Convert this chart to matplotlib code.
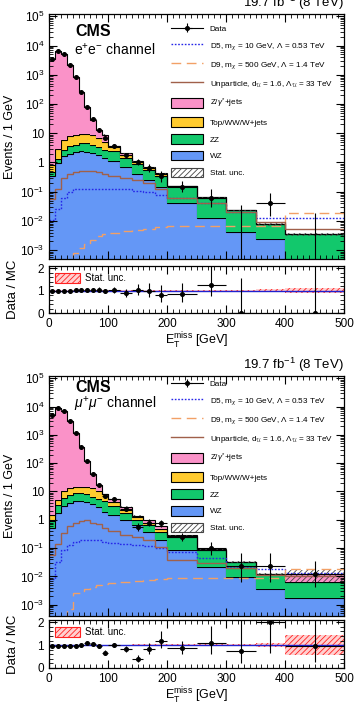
import numpy as np
import matplotlib.pyplot as plt
from matplotlib.patches import Patch
from matplotlib.lines import Line2D
from matplotlib.ticker import MultipleLocator, FixedLocator, LogLocator, NullFormatter

plt.rcParams['font.family'] = ['Liberation Sans', 'DejaVu Sans']
plt.rcParams['mathtext.fontset'] = 'custom'
plt.rcParams['mathtext.rm'] = 'Liberation Sans'
plt.rcParams['mathtext.it'] = 'Liberation Sans:italic'
plt.rcParams['mathtext.bf'] = 'Liberation Sans:bold'
plt.rcParams['hatch.linewidth'] = 0.6

# bin edges (GeV)
edges = [0, 10, 20, 30, 40, 50, 60, 70, 80, 90, 100,
         120, 140, 160, 180, 200, 250, 300, 350, 400, 500]

# ---- ee channel, events per GeV
ee_data = [3500, 6600, 5100, 2200, 820, 265, 80, 30, 12.6, 7.0,
           3.8, 1.8, 1.07, 0.66, 0.34, 0.15, 0.063, 0.0, 0.04, 0.0]
ee_wz = [0.34, 0.98, 1.65, 2.0, 2.25, 2.4, 2.3, 2.1, 1.8, 1.45,
         1.1, 0.7, 0.42, 0.25, 0.15, 0.042, 0.013, 0.0042, 0.0025, 0.0]
ee_zz = [0.13, 0.37, 0.95, 1.6, 1.85, 2.3, 2.3, 2.0, 1.6, 1.25,
         1.3, 0.75, 0.45, 0.3, 0.2, 0.11, 0.05, 0.019, 0.0051, 0.0035]
ee_top = [0.33, 1.65, 3.4, 4.4, 4.9, 4.9, 5.0, 4.4, 3.6, 2.3,
          0.9, 0.4, 0.18, 0.1, 0.06, 0.004, 0.001, 0.0, 0.0, 0.0]
ee_dy = [3500, 6600, 5100, 2190, 810, 255, 70, 21, 5.6, 4.0,
         0.4, 0.2, 0.05, 0.03, 0.02, 0.002, 0.0, 0.0, 0.0, 0.0]
ee_d5 = [0.011, 0.025, 0.063, 0.1, 0.12, 0.12, 0.12, 0.12, 0.12, 0.12,
         0.12, 0.12, 0.11, 0.1, 0.08, 0.06, 0.04, 0.02, 0.0125, 0.0125]
ee_d9 = [0.0001, 0.0002, 0.0003, 0.0004, 0.0008, 0.0012, 0.0016, 0.0022, 0.003, 0.0035,
         0.004, 0.0045, 0.005, 0.0055, 0.006, 0.0068, 0.0068, 0.0068, 0.0068, 0.019]
ee_unpart = [0.055, 0.12, 0.3, 0.42, 0.48, 0.5, 0.52, 0.52, 0.48, 0.42,
             0.35, 0.3, 0.25, 0.2, 0.12, 0.063, 0.04, 0.021, 0.009, 0.0054]
ee_stat = [0.01, 0.01, 0.01, 0.01, 0.01, 0.01, 0.01, 0.01, 0.02, 0.02,
           0.02, 0.02, 0.03, 0.03, 0.03, 0.03, 0.04, 0.05, 0.08, 0.12]
ee_ratio = [1.0, 1.0, 1.0, 1.0, 1.02, 1.03, 1.04, 1.04, 1.05, 0.97,
            1.03, 0.88, 1.02, 0.99, 0.8, 0.83, 1.25, 0.0, np.nan, 0.0]

# ---- mumu channel, events per GeV
mm_data = [5000, 8800, 7200, 3000, 1150, 360, 115, 42, 17, 6.7,
           5.5, 2.4, 0.57, 0.8, 0.75, 0.24, 0.1, 0.023, 0.023, 0.0125]
mm_wz = [0.5, 1.7, 3.0, 3.9, 4.5, 4.5, 4.2, 3.6, 2.9, 1.95,
         1.5, 1.0, 0.64, 0.38, 0.19, 0.085, 0.021, 0.0095, 0.0036, 0.0017]
mm_zz = [0.4, 1.6, 2.9, 3.7, 4.0, 4.0, 3.8, 2.9, 2.6, 2.55,
         1.5, 0.8, 0.36, 0.26, 0.19, 0.165, 0.064, 0.0225, 0.0089, 0.0046]
mm_top = [0.6, 1.7, 4.1, 5.4, 6.0, 6.5, 7.0, 6.5, 4.5, 3.5,
          1.2, 0.5, 0.3, 0.15, 0.08, 0.01, 0.003, 0.0005, 0.0, 0.0]
mm_dy = [5000, 8800, 7200, 2990, 1135, 345, 100, 28, 7.0, 0.0,
         1.3, 0.6, 0.1, 0.2, 0.15, 0.02, 0.002, 0.0, 0.0, 0.0055]
mm_d5 = [0.008, 0.033, 0.085, 0.13, 0.17, 0.2, 0.2, 0.2, 0.19, 0.17,
         0.15, 0.14, 0.13, 0.12, 0.1, 0.074, 0.043, 0.021, 0.019, 0.013]
mm_d9 = [0.0001, 0.0002, 0.0003, 0.0007, 0.0025, 0.0027, 0.0035, 0.0042, 0.005, 0.0055,
         0.006, 0.0065, 0.007, 0.0075, 0.008, 0.0085, 0.0085, 0.0085, 0.0085, 0.019]
mm_unpart = [0.056, 0.14, 0.33, 0.6, 0.8, 0.9, 0.95, 0.8, 0.7, 0.5,
             0.4, 0.3, 0.25, 0.2, 0.11, 0.037, 0.03, 0.02, 0.011, 0.01]
mm_stat = [0.01, 0.01, 0.01, 0.01, 0.01, 0.01, 0.01, 0.01, 0.02, 0.02,
           0.02, 0.02, 0.03, 0.03, 0.03, 0.03, 0.04, 0.05, 0.08, 0.45]
mm_ratio = [0.97, 0.97, 0.97, 0.97, 0.98, 1.0, 1.08, 1.05, 0.97, 0.67,
            1.0, 0.83, 0.4, 0.82, 1.2, 0.87, 1.1, 0.75, 2.0, 0.97]

lumi_text = r'19.7 fb$^{-1}$ (8 TeV)'
ytick_vals = [1e-3, 1e-2, 1e-1, 1, 10, 1e2, 1e3, 1e4, 1e5]
ytick_labels = [r'$10^{-3}$', r'$10^{-2}$', r'$10^{-1}$', '1', '10',
                r'$10^{2}$', r'$10^{3}$', r'$10^{4}$', r'$10^{5}$']

c_dy = '#fa92c8'
c_top = '#ffcb2f'
c_zz = '#12c86c'
c_wz = '#6497f6'
c_d5 = '#2626e8'
c_d9 = '#f2a066'
c_unp = '#a0604a'


def poisson_err(n):
    n = np.asarray(n, dtype=float)
    m = np.maximum(n, 1e-9)
    lo = np.where(n > 0, n - n * (1 - 1 / (9 * m) - 1 / (3 * np.sqrt(m))) ** 3, 0.0)
    hi = (n + 1) * (1 - 1 / (9 * (n + 1)) + 1 / (3 * np.sqrt(n + 1))) ** 3 - n
    return lo, hi


def style_axes(ax):
    ax.tick_params(which='both', direction='in', top=True, right=True, labelsize=8.5)
    ax.tick_params(which='major', length=6, width=0.8)
    ax.tick_params(which='minor', length=3, width=0.6)
    for s in ax.spines.values():
        s.set_linewidth(0.9)


def draw_channel(fig, rect_main, rect_ratio, data, wz, zz, top, dy, d5, d9, unp,
                 stat, ratio, channel_label, ylim, cms_y, chan_y, leg_y):
    e = np.array(edges, dtype=float)
    centers = 0.5 * (e[1:] + e[:-1])
    half = 0.5 * (e[1:] - e[:-1])
    widths = e[1:] - e[:-1]

    ax = fig.add_axes(rect_main)
    rax = fig.add_axes(rect_ratio)

    floor = 1e-7
    layers = [(wz, c_wz), (zz, c_zz), (top, c_top), (dy, c_dy)]
    bottom = np.full(len(centers), floor)
    for vals, col in layers:
        upper = bottom + np.array(vals)
        ax.stairs(upper, e, baseline=bottom, fill=True, color=col, lw=0)
        ax.stairs(upper, e, baseline=None, color='k', lw=0.8)
        bottom = upper
    total = bottom

    st = np.array(stat)
    ax.stairs(total * (1 + st), e, baseline=total * (1 - st), fill=True,
              facecolor='none', edgecolor='#444444', hatch='//////', lw=0)

    ax.stairs(d5, e, baseline=None, color=c_d5, ls=(0, (1.2, 1.2)), lw=1.0)
    ax.stairs(d9, e, baseline=None, color=c_d9, ls=(0, (7, 4)), lw=1.0)
    ax.stairs(unp, e, baseline=None, color=c_unp, lw=1.0)

    d = np.array(data, dtype=float)
    counts = np.round(d * widths)
    lo, hi = poisson_err(counts)
    lo = lo / widths
    hi = hi / widths
    nz = d > 0
    data_handle = ax.errorbar(centers[nz], d[nz], xerr=half[nz], yerr=[lo[nz], hi[nz]],
                              fmt='o', color='k', ms=2.6, lw=0.8, capsize=0)
    zero = ~nz
    ax.vlines(centers[zero], ylim[0] * 0.5, hi[zero], color='k', lw=0.8)

    ax.set_yscale('log')
    ax.set_xlim(0, 500)
    ax.set_ylim(*ylim)
    ax.yaxis.set_major_locator(FixedLocator(ytick_vals))
    ax.set_yticklabels(ytick_labels)
    ax.yaxis.set_minor_locator(LogLocator(base=10, subs=np.arange(2, 10), numticks=20))
    ax.yaxis.set_minor_formatter(NullFormatter())
    ax.xaxis.set_major_locator(MultipleLocator(100))
    ax.xaxis.set_minor_locator(MultipleLocator(10))
    ax.set_xticklabels([])
    style_axes(ax)
    ax.set_ylabel('Events / 1 GeV', fontsize=9)
    ax.yaxis.set_label_coords(-0.112, 0.5)

    ax.text(0.09, cms_y, 'CMS', transform=ax.transAxes, fontsize=11.5,
            fontweight='bold', va='center')
    ax.text(0.085, chan_y, channel_label, transform=ax.transAxes, fontsize=10,
            va='center')
    ax.text(1.0, 1.01, lumi_text, transform=ax.transAxes, fontsize=9.5,
            ha='right', va='bottom')

    handles = [
        (Line2D([0], [0], color='k', lw=0.8), data_handle),
        Line2D([0], [0], color=c_d5, ls=(0, (1.2, 1.2)), lw=1.0),
        Line2D([0], [0], color=c_d9, ls=(0, (7, 4)), lw=1.0),
        Line2D([0], [0], color=c_unp, lw=1.0),
        Patch(facecolor=c_dy, edgecolor='k', lw=0.8),
        Patch(facecolor=c_top, edgecolor='k', lw=0.8),
        Patch(facecolor=c_zz, edgecolor='k', lw=0.8),
        Patch(facecolor=c_wz, edgecolor='k', lw=0.8),
        Patch(facecolor='white', edgecolor='#444444', hatch='//////', lw=0.8),
    ]
    labels = ['Data',
              r'D5, m$_{\chi}$ = 10 GeV, $\Lambda$ = 0.53 TeV',
              r'D9, m$_{\chi}$ = 500 GeV, $\Lambda$ = 1.4 TeV',
              r'Unparticle, d$_{\mathcal{U}}$ = 1.6, $\Lambda_{\mathcal{U}}$ = 33 TeV',
              r'Z/$\gamma^{*}$+jets', 'Top/WW/W+jets', 'ZZ', 'WZ', 'Stat. unc.']
    ax.legend(handles, labels, loc='upper left', bbox_to_anchor=(0.415, leg_y),
              frameon=False, fontsize=5.9, handlelength=3.9, handleheight=1.45,
              labelspacing=0.86, handletextpad=0.75, borderpad=0, borderaxespad=0)

    # ratio panel
    rax.stairs(1 + st, e, baseline=1 - st, fill=True, facecolor='#ffd0d0',
               edgecolor='#ff2020', hatch='//////', lw=0)
    rax.axhline(1, color='#2020d0', lw=1.0)
    r = np.array(ratio, dtype=float)
    rlo = lo / total
    rhi = hi / total
    ok = ~np.isnan(r)
    rax.errorbar(centers[ok], r[ok], xerr=half[ok],
                 yerr=[np.minimum(rlo, r)[ok], rhi[ok]],
                 fmt='o', color='k', ms=2.6, lw=0.8, capsize=0)
    rax.set_xlim(0, 500)
    rax.set_ylim(0, 2.1)
    rax.yaxis.set_major_locator(FixedLocator([0, 1, 2]))
    rax.yaxis.set_minor_locator(MultipleLocator(0.2))
    rax.xaxis.set_major_locator(MultipleLocator(100))
    rax.xaxis.set_minor_locator(MultipleLocator(10))
    style_axes(rax)
    rax.set_ylabel('Data / MC', fontsize=9.5)
    rax.yaxis.set_label_coords(-0.102, 0.5)
    rax.set_xlabel(r'E$_{\mathrm{T}}^{\mathrm{miss}}$ [GeV]', fontsize=9, labelpad=1)
    rax.legend([Patch(facecolor='#ffd0d0', edgecolor='#ff2020', hatch='//////', lw=0.8)],
               ['Stat. unc.'], loc='upper left', bbox_to_anchor=(0.02, 0.86),
               frameon=False, fontsize=7, handlelength=2.6, handleheight=1.3,
               handletextpad=0.5, borderpad=0, borderaxespad=0)
    return ax, rax


W, H = 354, 706
fig = plt.figure(figsize=(W / 100, H / 100), dpi=100)


def rect(top_px, bottom_px):
    return [49 / W, 1 - bottom_px / H, (344 - 49) / W, (bottom_px - top_px) / H]


draw_channel(fig, rect(14, 259), rect(266, 313), ee_data, ee_wz, ee_zz, ee_top, ee_dy,
             ee_d5, ee_d9, ee_unpart, ee_stat, ee_ratio, r'e$^{+}$e$^{-}$ channel',
             (5e-4, 1.2e5), 0.93, 0.855, 0.96)
draw_channel(fig, rect(376, 616), rect(620, 668), mm_data, mm_wz, mm_zz, mm_top, mm_dy,
             mm_d5, mm_d9, mm_unpart, mm_stat, mm_ratio, r'$\mu^{+}\mu^{-}$ channel',
             (4e-4, 1.2e5), 0.95, 0.88, 0.988)

fig.savefig('out.png', dpi=100)
